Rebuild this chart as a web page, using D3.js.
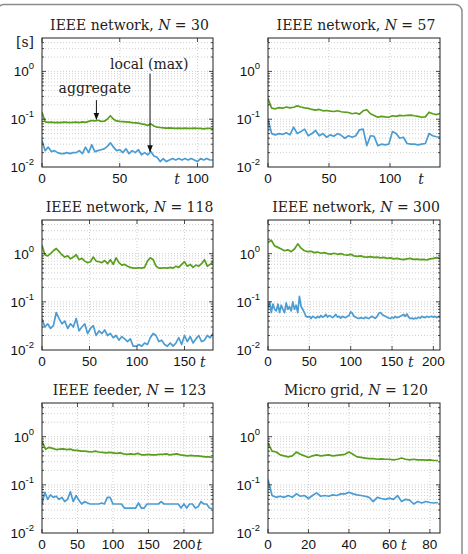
<!DOCTYPE html>
<html>
<head>
<meta charset="utf-8">
<script src="https://cdn.jsdelivr.net/npm/d3@7"></script>
<style>
  html, body { margin: 0; padding: 0; background: #fff; }
  svg { display: block; }
  .title, .annot, .unit { font-family: "DejaVu Serif", serif; font-size: 14px; fill: #222; }
  .tlabel { font-family: "DejaVu Serif", serif; font-size: 14px; font-style: italic; fill: #222; }
  .tick-label { font-family: "Liberation Sans", Arial, sans-serif; font-size: 13.5px; fill: #111; }
  .grid line { stroke: #c4c4c4; stroke-width: 0.8; stroke-dasharray: 1, 2; }
</style>
</head>
<body>
<svg id="chart" width="468" height="554"></svg>
<script>
// --- data (t = index * step) ---
const titles = ['IEEE network', 'IEEE network', 'IEEE network', 'IEEE network', 'IEEE feeder', 'Micro grid'];
const sizes = [30, 57, 118, 300, 123, 120];
const xMaxes = [110, 141, 180, 208, 241, 85];
const xTickSets = [[0, 50, 100], [0, 50, 100], [0, 50, 100, 150], [0, 50, 100, 150, 200], [0, 50, 100, 150, 200], [0, 20, 40, 60, 80]];
const yTicks = [1e-2, 1e-1, 1e0];

const green1 = [0.14,0.088,0.086,0.087,0.085,0.086,0.085,0.087,0.086,0.085,0.086,0.087,0.085,0.088,0.086,0.09,0.094,0.092,0.095,0.09,0.091,0.1,0.118,0.1,0.092,0.09,0.089,0.088,0.087,0.085,0.084,0.083,0.08,0.078,0.074,0.08,0.072,0.068,0.067,0.066,0.065,0.066,0.065,0.064,0.065,0.064,0.065,0.064,0.064,0.065,0.064,0.064,0.063,0.064,0.064,0.063];
const blue1 = [0.036,0.022,0.026,0.021,0.022,0.02,0.019,0.019,0.02,0.019,0.02,0.02,0.022,0.019,0.026,0.02,0.029,0.021,0.022,0.023,0.024,0.027,0.032,0.026,0.022,0.023,0.02,0.024,0.019,0.022,0.02,0.023,0.018,0.02,0.018,0.021,0.017,0.016,0.013,0.015,0.013,0.014,0.015,0.014,0.015,0.014,0.015,0.014,0.015,0.014,0.013,0.015,0.014,0.015,0.014,0.014];

const green2 = [0.27,0.17,0.165,0.175,0.17,0.18,0.172,0.178,0.19,0.18,0.172,0.168,0.16,0.155,0.16,0.15,0.152,0.148,0.145,0.15,0.143,0.14,0.138,0.13,0.135,0.128,0.15,0.158,0.13,0.12,0.11,0.115,0.112,0.11,0.118,0.115,0.12,0.118,0.12,0.122,0.118,0.115,0.11,0.112,0.14,0.13,0.125,0.132];
const blue2 = [0.1,0.05,0.047,0.05,0.048,0.052,0.047,0.068,0.05,0.055,0.062,0.045,0.05,0.058,0.045,0.05,0.042,0.047,0.044,0.05,0.046,0.04,0.045,0.042,0.045,0.06,0.062,0.028,0.045,0.044,0.028,0.03,0.029,0.03,0.055,0.05,0.04,0.042,0.031,0.03,0.03,0.029,0.03,0.031,0.05,0.045,0.043,0.042];

const green3 = [1.5,0.95,0.9,1.0,1.15,1.28,1.1,0.95,0.85,0.9,0.78,0.85,0.95,0.75,0.8,0.7,0.65,0.68,0.85,0.7,0.68,0.65,0.72,0.62,0.75,0.6,0.82,0.65,0.58,0.6,0.55,0.52,0.5,0.5,0.51,0.5,0.52,0.7,0.82,0.75,0.55,0.5,0.5,0.51,0.5,0.52,0.5,0.55,0.52,0.6,0.68,0.55,0.6,0.52,0.58,0.55,0.62,0.75,0.55,0.6,0.68];
const blue3 = [0.045,0.03,0.035,0.028,0.032,0.06,0.045,0.035,0.04,0.028,0.035,0.03,0.045,0.025,0.03,0.035,0.022,0.028,0.032,0.02,0.025,0.022,0.026,0.02,0.022,0.018,0.02,0.016,0.019,0.017,0.015,0.017,0.012,0.012,0.013,0.012,0.014,0.013,0.018,0.022,0.02,0.015,0.016,0.013,0.012,0.014,0.012,0.014,0.018,0.013,0.02,0.015,0.019,0.014,0.017,0.02,0.015,0.016,0.02,0.018,0.022];

const green4 = [1.7,1.9,1.45,1.35,1.25,1.15,1.2,1.1,1.25,1.6,1.3,1.15,1.1,1.12,1.05,1.08,1.02,1.05,1.0,0.98,1.02,0.97,1.0,0.95,0.93,0.97,0.9,0.88,0.9,0.86,0.85,0.87,0.84,0.85,0.82,0.84,0.8,0.82,0.78,0.8,0.77,0.75,0.78,0.8,0.76,0.77,0.75,0.76,0.74,0.78,0.8,0.83,0.79];
const blue4 = [0.075,0.1,0.06,0.09,0.07,0.065,0.09,0.06,0.085,0.07,0.06,0.095,0.07,0.08,0.065,0.1,0.07,0.085,0.06,0.13,0.08,0.07,0.06,0.05,0.048,0.05,0.045,0.05,0.048,0.046,0.05,0.047,0.052,0.048,0.05,0.055,0.048,0.052,0.05,0.047,0.05,0.055,0.048,0.05,0.046,0.05,0.048,0.047,0.05,0.052,0.062,0.058,0.05,0.048,0.046,0.045,0.047,0.046,0.045,0.048,0.046,0.045,0.048,0.05,0.047,0.046,0.05,0.058,0.06,0.055,0.052,0.05,0.048,0.046,0.045,0.048,0.046,0.05,0.047,0.048,0.05,0.052,0.055,0.05,0.056,0.048,0.045,0.046,0.044,0.046,0.045,0.048,0.046,0.05,0.048,0.047,0.05,0.048,0.049,0.05,0.048,0.05,0.047,0.049,0.048];

const green5 = [0.8,0.55,0.6,0.57,0.54,0.55,0.56,0.54,0.55,0.52,0.52,0.5,0.5,0.49,0.48,0.5,0.48,0.47,0.46,0.47,0.46,0.45,0.46,0.44,0.43,0.44,0.43,0.45,0.42,0.42,0.43,0.42,0.42,0.43,0.43,0.44,0.42,0.43,0.44,0.42,0.41,0.4,0.41,0.4,0.4,0.39,0.38,0.38,0.37];
const blue5 = [0.04,0.07,0.05,0.062,0.055,0.058,0.05,0.055,0.045,0.05,0.072,0.045,0.06,0.048,0.04,0.045,0.042,0.04,0.04,0.04,0.04,0.042,0.04,0.055,0.055,0.04,0.04,0.04,0.04,0.033,0.033,0.033,0.033,0.033,0.042,0.033,0.033,0.04,0.04,0.04,0.04,0.04,0.045,0.04,0.04,0.04,0.04,0.04,0.04,0.033,0.04,0.033,0.04,0.04,0.033,0.035,0.045,0.04,0.04,0.033,0.032];

const green6 = [0.73,0.5,0.48,0.42,0.4,0.38,0.4,0.48,0.43,0.4,0.37,0.4,0.42,0.4,0.41,0.42,0.4,0.41,0.42,0.43,0.48,0.43,0.38,0.37,0.36,0.35,0.35,0.34,0.345,0.34,0.34,0.33,0.34,0.36,0.34,0.33,0.34,0.33,0.33,0.325,0.33,0.32,0.32];
const blue6 = [0.13,0.06,0.055,0.058,0.055,0.06,0.055,0.065,0.058,0.06,0.052,0.06,0.068,0.058,0.06,0.058,0.062,0.06,0.065,0.065,0.07,0.065,0.062,0.06,0.058,0.055,0.045,0.055,0.052,0.05,0.053,0.05,0.06,0.045,0.05,0.048,0.04,0.045,0.042,0.045,0.043,0.042,0.043];

const greenSeries = [green1, green2, green3, green4, green5, green6];
const blueSeries = [blue1, blue2, blue3, blue4, blue5, blue6];
const greenSteps = [2, 3, 3, 4, 5, 2];
const blueSteps = [2, 3, 3, 2, 4, 2];

// --- layout ---
const GREEN = '#5a9f1c';
const BLUE = '#4b9cd3';
const colX = [[42, 213], [268, 440]];
const rowY = [[38, 167], [220, 350], [403, 533]];
const tLabelFrac = [0.79, 0.89, 0.94, 0.83, 0.92, 0.79];

const svg = d3.select('#chart');

// outer rounded frame (left and bottom edges fall outside the picture)
svg.append('rect')
  .attr('x', -3).attr('y', 4.5).attr('width', 465).attr('height', 620).attr('rx', 7)
  .attr('fill', 'none').attr('stroke', '#8c8c8c').attr('stroke-width', 1.5);

svg.append('defs').html(
  '<marker id="arrow" viewBox="0 0 10 10" refX="9" refY="5" markerWidth="7" markerHeight="7" orient="auto">' +
  '<path d="M0,1 L10,5 L0,9 z" fill="#111"/></marker>');

function drawPanel(i) {
  const [x0, x1] = colX[i % 2];
  const [y0, y1] = rowY[Math.floor(i / 2)];
  const x = d3.scaleLinear().domain([0, xMaxes[i]]).range([x0, x1]);
  const y = d3.scaleLog().domain([0.01, 5]).range([y1, y0]);
  const g = svg.append('g');

  // grid: minor log lines on y, major ticks on x
  const minor = [];
  for (let k = -2; k <= 0; k++) {
    for (let m = 1; m <= 9; m++) {
      const v = m * Math.pow(10, k);
      if (v > 0.01 && v < 5) minor.push(v);
    }
  }
  const grid = g.append('g').attr('class', 'grid');
  grid.selectAll('line.h').data(minor).join('line').attr('class', 'h')
    .attr('x1', x0).attr('x2', x1).attr('y1', d => y(d)).attr('y2', d => y(d));
  grid.selectAll('line.v').data(xTickSets[i].filter(d => d > 0)).join('line').attr('class', 'v')
    .attr('x1', d => x(d)).attr('x2', d => x(d)).attr('y1', y0).attr('y2', y1);

  // series
  const clipId = 'clip' + i;
  svg.select('defs').append('clipPath').attr('id', clipId)
    .append('rect').attr('x', x0).attr('y', y0).attr('width', x1 - x0).attr('height', y1 - y0);
  const plot = g.append('g').attr('clip-path', `url(#${clipId})`);
  const line = step => d3.line().x((d, j) => x(j * step)).y(d => y(d));
  plot.append('path').datum(blueSeries[i]).attr('d', line(blueSteps[i]))
    .attr('fill', 'none').attr('stroke', BLUE).attr('stroke-width', 1.7).attr('stroke-linejoin', 'round');
  plot.append('path').datum(greenSeries[i]).attr('d', line(greenSteps[i]))
    .attr('fill', 'none').attr('stroke', GREEN).attr('stroke-width', 1.7).attr('stroke-linejoin', 'round');

  // box + inward ticks
  g.append('rect').attr('x', x0).attr('y', y0).attr('width', x1 - x0).attr('height', y1 - y0)
    .attr('fill', 'none').attr('stroke', '#222').attr('stroke-width', 1);
  const ticks = g.append('g').attr('stroke', '#222').attr('stroke-width', 0.8);
  minor.forEach(v => {
    const len = yTicks.includes(v) ? 4 : 2;
    ticks.append('line').attr('x1', x0).attr('x2', x0 + len).attr('y1', y(v)).attr('y2', y(v));
    ticks.append('line').attr('x1', x1).attr('x2', x1 - len).attr('y1', y(v)).attr('y2', y(v));
  });
  xTickSets[i].forEach(t => {
    ticks.append('line').attr('x1', x(t)).attr('x2', x(t)).attr('y1', y1).attr('y2', y1 - 4);
    ticks.append('line').attr('x1', x(t)).attr('x2', x(t)).attr('y1', y0).attr('y2', y0 + 4);
  });

  // tick labels
  g.selectAll('text.xt').data(xTickSets[i]).join('text').attr('class', 'tick-label xt')
    .attr('x', d => x(d)).attr('y', y1 + 16).attr('text-anchor', 'middle').text(d => d);
  yTicks.forEach(v => {
    const txt = g.append('text').attr('class', 'tick-label')
      .attr('x', x0 - 8).attr('y', y(v) + 5).attr('text-anchor', 'end');
    txt.append('tspan').text('10');
    txt.append('tspan').attr('dy', -7).attr('font-size', '9.5px').text(Math.round(Math.log10(v)));
  });

  // axis name t
  g.append('text').attr('class', 'tlabel')
    .attr('x', x0 + tLabelFrac[i] * (x1 - x0)).attr('y', y1 + 17).attr('text-anchor', 'middle').text('t');

  // title
  const title = g.append('text').attr('class', 'title')
    .attr('x', (x0 + x1) / 2 + 2).attr('y', y0 - 8).attr('text-anchor', 'middle');
  title.append('tspan').text(titles[i] + ', ');
  title.append('tspan').attr('font-style', 'italic').text('N');
  title.append('tspan').text(' = ' + sizes[i]);

  return { x, y, g };
}

const panels = d3.range(6).map(drawPanel);

// annotations on the first panel
const p0 = panels[0];
p0.g.append('text').attr('class', 'unit').attr('x', 25).attr('y', 47).attr('text-anchor', 'middle').text('[s]');
p0.g.append('text').attr('class', 'annot').attr('x', p0.x(69)).attr('y', p0.y(1.1)).attr('text-anchor', 'middle').text('local (max)');
p0.g.append('line').attr('x1', p0.x(69.5)).attr('x2', p0.x(69.5)).attr('y1', p0.y(0.9)).attr('y2', p0.y(0.021))
  .attr('stroke', '#111').attr('stroke-width', 1).attr('marker-end', 'url(#arrow)');
p0.g.append('text').attr('class', 'annot').attr('x', p0.x(34)).attr('y', p0.y(0.36)).attr('text-anchor', 'middle').text('aggregate');
p0.g.append('line').attr('x1', p0.x(35)).attr('x2', p0.x(35)).attr('y1', p0.y(0.25)).attr('y2', p0.y(0.1))
  .attr('stroke', '#111').attr('stroke-width', 1).attr('marker-end', 'url(#arrow)');
</script>
</body>
</html>
